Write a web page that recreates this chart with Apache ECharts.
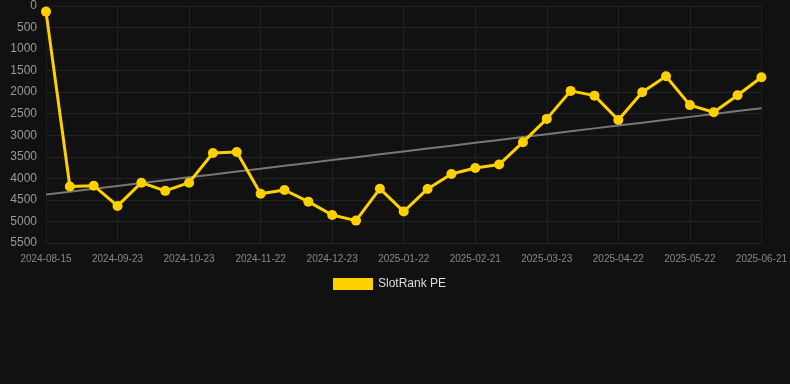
<!DOCTYPE html>
<html>
<head>
<meta charset="utf-8">
<script src="https://cdn.jsdelivr.net/npm/echarts@6/dist/echarts.min.js"></script>
<style>
  html, body { margin: 0; padding: 0; background: #111111; }
  #pe_chart { width: 790px; height: 384px; }
</style>
</head>
<body>
<div id="pe_chart"></div>
<script>
// dates of each ranking snapshot
const dates = [
    "2024-08-15", "2024-08-28", "2024-09-10", "2024-09-23", "2024-10-03", "2024-10-13",
    "2024-10-23", "2024-11-02", "2024-11-12", "2024-11-22", "2024-12-02", "2024-12-12",
    "2024-12-23", "2025-01-02", "2025-01-12", "2025-01-22", "2025-02-01", "2025-02-11",
    "2025-02-21", "2025-03-03", "2025-03-13", "2025-03-23", "2025-04-02", "2025-04-12",
    "2025-04-22", "2025-05-02", "2025-05-12", "2025-05-22", "2025-06-01", "2025-06-11",
    "2025-06-21"
];

// rank values (lower is better, axis is inverted)
const ranks = [
    130, 4190, 4170, 4640, 4100, 4290,
    4100, 3410, 3390, 4355, 4270, 4540,
    4850, 4980, 4240, 4770, 4245, 3900,
    3760, 3680, 3160, 2620, 1970, 2080,
    2645, 2000, 1630, 2300, 2465, 2070,
    1655
];

// linear trend through the ranks
function trendLine(values) {
    const n = values.length;
    let sx = 0, sy = 0, sxy = 0, sxx = 0;
    values.forEach((v, i) => { sx += i; sy += v; sxy += i * v; sxx += i * i; });
    const slope = (n * sxy - sx * sy) / (n * sxx - sx * sx);
    const icpt = (sy - slope * sx) / n;
    return values.map((v, i) => Math.round(icpt + slope * i));
}

var myChart = echarts.init(document.getElementById("pe_chart"));

myChart.setOption({
    backgroundColor: "#111111",
    animation: false,
    textStyle: { fontFamily: "sans-serif" },
    grid: { left: 46, right: 28, top: 6, bottom: 141 },
    legend: {
        left: 328,
        top: 273,
        data: ["SlotRank PE"],
        itemWidth: 40,
        itemHeight: 12,
        itemGap: 6,
        icon: "rect",
        textStyle: { color: "#dddddd", fontSize: 12 },
    },
    xAxis: {
        type: "category",
        boundaryGap: false,
        data: dates,
        axisLine: { show: false },
        axisTick: { show: false },
        axisLabel: { color: "#888888", fontSize: 10, interval: 2, margin: 11 },
        splitLine: { show: true, interval: 2, lineStyle: { color: "#1f1f1f" } },
    },
    yAxis: {
        type: "value",
        inverse: true,
        min: 0,
        max: 5500,
        interval: 500,
        axisLine: { show: false },
        axisTick: { show: false },
        axisLabel: { color: "#999999", fontSize: 12, margin: 9, formatter: (v) => String(v) },
        splitLine: { lineStyle: { color: "#222222" } },
    },
    series: [
        {
            name: "SlotRank PE",
            type: "line",
            data: ranks,
            symbol: "circle",
            symbolSize: 10,
            lineStyle: { color: "#FFD000", width: 3 },
            itemStyle: { color: "#FFD000" },
            z: 3,
        },
        {
            name: "Trend",
            type: "line",
            data: trendLine(ranks),
            symbol: "none",
            lineStyle: { color: "#777777", width: 2 },
            itemStyle: { color: "#777777" },
            z: 2,
        },
    ],
});
</script>
</body>
</html>
